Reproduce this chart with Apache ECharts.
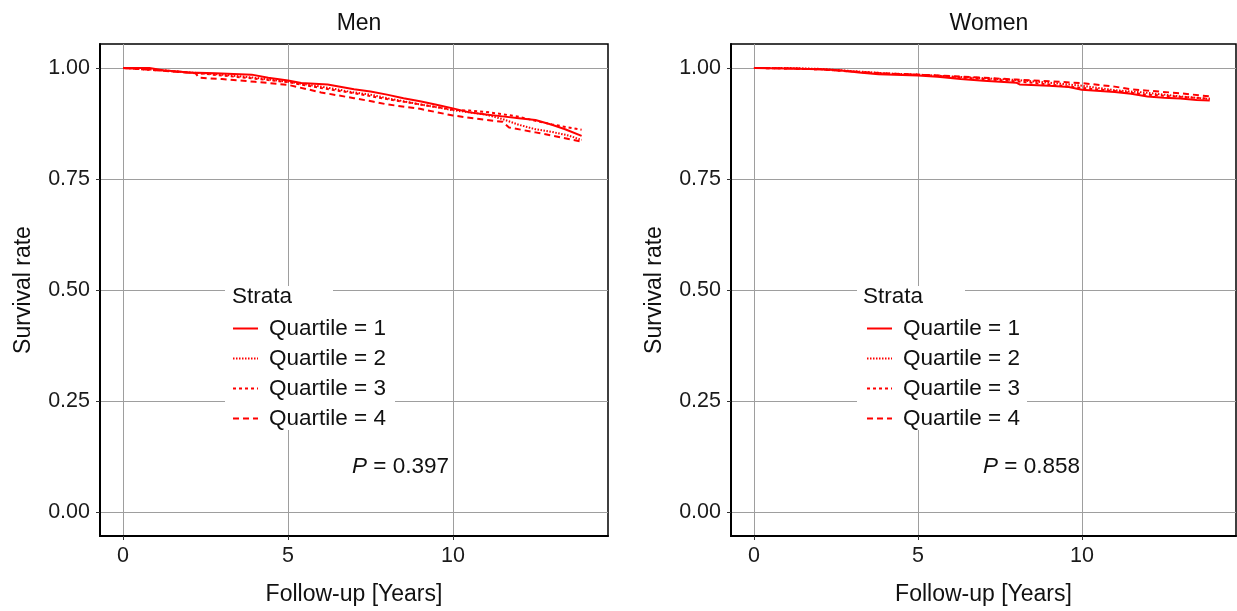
<!DOCTYPE html>
<html><head><meta charset="utf-8">
<script src="https://cdn.jsdelivr.net/npm/echarts@6/dist/echarts.min.js"></script>
<style>html,body{margin:0;padding:0;background:#fff}#c{width:1237px;height:611px}</style>
</head><body><div id="c"></div>
<script>
const panels = ['Men', 'Women'];
const strata = ['Quartile = 1', 'Quartile = 2', 'Quartile = 3', 'Quartile = 4'];
const xTicks = [0, 5, 10];
const yTicks = [0, 0.25, 0.5, 0.75, 1];
const pValues = ['0.397', '0.858'];

// [years, survival]
const menQ1 = [[0,1],[0.8,1],[1.2,0.995],[2,0.99],[2.8,0.988],[3.9,0.985],[4.4,0.978],[5,0.972],[5.4,0.966],[6.2,0.963],[7,0.952],[7.5,0.947],[8,0.94],[8.5,0.932],[9,0.925],[9.5,0.917],[10,0.909],[10.5,0.9],[11,0.895],[11.5,0.891],[12,0.887],[12.5,0.883],[13,0.872],[13.4,0.862],[13.9,0.847]];
const menQ2 = [[0,1],[1,0.996],[2,0.99],[3,0.985],[4,0.978],[5,0.969],[6,0.958],[7,0.945],[7.5,0.94],[8,0.932],[8.5,0.925],[9,0.918],[10,0.905],[11,0.895],[11.5,0.885],[12,0.872],[12.5,0.862],[13,0.856],[13.5,0.848],[13.9,0.838]];
const menQ3 = [[0,1],[1,0.995],[2,0.99],[3,0.983],[4,0.976],[5,0.968],[6,0.955],[7,0.943],[8,0.93],[9,0.918],[10,0.906],[10.5,0.904],[11,0.901],[11.5,0.896],[12,0.89],[12.5,0.881],[13,0.873],[13.5,0.866],[13.9,0.861]];
const menQ4 = [[0,1],[1,0.995],[2.2,0.988],[2.3,0.978],[3,0.975],[4,0.969],[5,0.962],[6,0.945],[7,0.932],[7.6,0.924],[8,0.918],[9,0.908],[10,0.893],[11,0.883],[11.5,0.879],[11.7,0.866],[12.5,0.855],[13,0.848],[13.9,0.834]];

const womenQ1 = [[0,1],[1,0.999],[2,0.997],[2.6,0.995],[3.2,0.99],[3.8,0.986],[5,0.983],[5.6,0.98],[6.3,0.975],[7,0.971],[8,0.967],[8.1,0.963],[9,0.96],[9.6,0.957],[10,0.951],[11,0.946],[11.5,0.942],[12,0.936],[12.5,0.933],[13,0.931],[13.5,0.928],[13.9,0.927]];
const womenQ2 = [[0,1],[1,1],[2,0.998],[3,0.993],[4,0.988],[5,0.985],[6,0.981],[7,0.977],[8,0.973],[9,0.967],[10,0.96],[10.5,0.955],[11,0.95],[12,0.944],[13,0.936],[13.9,0.93]];
const womenQ3 = [[0,1],[1,0.999],[2,0.997],[3,0.992],[4,0.987],[5,0.985],[6,0.98],[7,0.975],[8,0.97],[9,0.963],[10,0.955],[11,0.948],[12,0.94],[13,0.935],[13.9,0.931]];
const womenQ4 = [[0,1],[1,0.999],[2,0.997],[3,0.992],[4,0.988],[5,0.985],[6,0.982],[7,0.978],[8,0.974],[9,0.97],[10,0.966],[11,0.958],[11.5,0.952],[12,0.949],[13,0.943],[13.9,0.936]];

const panelData = [[menQ1, menQ2, menQ3, menQ4], [womenQ1, womenQ2, womenQ3, womenQ4]];
const dashTypes = ['solid', [1.5, 1.5], [3, 3], [6, 4]];

const FONT = '"Liberation Sans", Arial, Helvetica, sans-serif';
const grids = [
  { left: 100, right: 629, top: 44, bottom: 74 },
  { left: 731, right: 1, top: 44, bottom: 74 }
];

const xAxes = panels.map((p, i) => ({
  type: 'value', gridIndex: i, min: -0.7, max: 14.7,
  name: 'Follow-up [Years]', nameLocation: 'middle', nameGap: 47,
  nameTextStyle: { fontFamily: FONT, fontSize: 23, color: '#111' },
  axisLine: { show: true, onZero: false, lineStyle: { color: '#000', width: 2 } },
  axisTick: { show: true, length: 4, customValues: xTicks, lineStyle: { color: '#333', width: 1 } },
  axisLabel: { customValues: xTicks, margin: 9, fontFamily: FONT, fontSize: 21.5, color: '#1a1a1a' },
  splitLine: { show: true, lineStyle: { color: '#9e9e9e', width: 1 } }
}));
const yAxes = panels.map((p, i) => ({
  type: 'value', gridIndex: i, min: -0.054, max: 1.054,
  name: 'Survival rate', nameLocation: 'middle', nameGap: 65,
  nameTextStyle: { fontFamily: FONT, fontSize: 23, color: '#111' },
  axisLine: { show: true, onZero: false, lineStyle: { color: '#000', width: 2 } },
  axisTick: { show: true, length: 4, customValues: yTicks, lineStyle: { color: '#333', width: 1 } },
  axisLabel: { customValues: yTicks, margin: 10, fontFamily: FONT, fontSize: 21.5, color: '#1a1a1a',
    formatter: v => v.toFixed(2) },
  splitLine: { show: true, lineStyle: { color: '#9e9e9e', width: 1 } }
}));

const series = [];
panelData.forEach((arrs, pi) => {
  arrs.forEach((d, si) => {
    series.push({
      type: 'line', name: strata[si], xAxisIndex: pi, yAxisIndex: pi,
      data: d, showSymbol: false, symbol: 'none', silent: true,
      lineStyle: { color: '#ff0000', width: 2, type: dashTypes[si] },
      itemStyle: { color: '#ff0000' }, z: 3
    });
  });
});

const legendLeft = [227, 861];
const legends = legendLeft.map(l => ({
  data: strata, orient: 'vertical', left: l, top: 312, itemWidth: 25, itemHeight: 14, itemGap: 7,
  itemStyle: { opacity: 0 },
  textStyle: { fontFamily: FONT, fontSize: 22.5, color: '#111', padding: [0, 0, 0, 6] },
  selectedMode: false, z: 6
}));

const graphics = [];
const rectDefs = [
  [225, 286, 108, 26], [225, 312, 170, 118],
  [857, 286, 108, 26], [857, 312, 170, 118]
];
rectDefs.forEach(r => graphics.push({ type: 'rect', shape: { x: r[0], y: r[1], width: r[2], height: r[3] }, style: { fill: '#fff' }, z: 5, silent: true }));
[232, 863].forEach(x => graphics.push({ type: 'text', left: x, top: 285, z: 7,
  style: { text: 'Strata', font: '22.5px ' + FONT, fill: '#111' } }));
[[352, 0], [983, 1]].forEach(([x, i]) => graphics.push({ type: 'text', left: x, top: 455, z: 7,
  style: { text: '{i|P} = ' + pValues[i], font: '22.5px ' + FONT, fill: '#111',
    rich: { i: { fontStyle: 'italic', fontFamily: FONT, fontSize: 22.5, fill: '#111' } } } }));

const chart = echarts.init(document.getElementById('c'), null, { renderer: 'canvas' });
chart.setOption({
  animation: false,
  backgroundColor: '#fff',
  title: [
    { text: panels[0], left: 354, top: 7, textAlign: 'center', textStyle: { fontFamily: FONT, fontSize: 23, fontWeight: 'normal', color: '#111' } },
    { text: panels[1], left: 984, top: 7, textAlign: 'center', textStyle: { fontFamily: FONT, fontSize: 23, fontWeight: 'normal', color: '#111' } }
  ],
  grid: grids.map(g => Object.assign({ show: true, borderColor: '#000', borderWidth: 1.5, backgroundColor: '#fff' }, g)),
  xAxis: xAxes, yAxis: yAxes,
  legend: legends,
  graphic: graphics,
  series: series
});
</script></body></html>
